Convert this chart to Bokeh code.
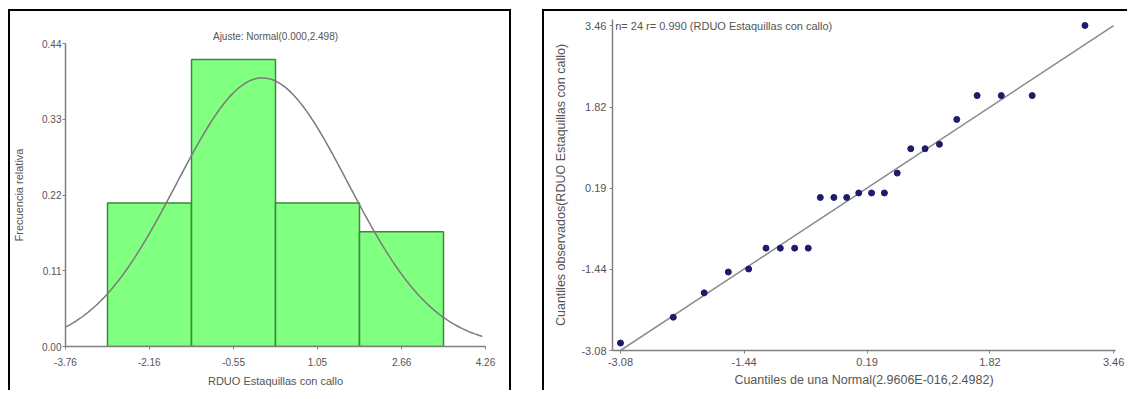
from bokeh.plotting import figure
from bokeh.layouts import row, column
from bokeh.models import Range1d, FixedTicker, Label, Spacer
from bokeh.embed import file_html
from bokeh.resources import INLINE
import numpy as np

# ---------------- data: histogram (left) ----------------
bin_edges = [-2.958, -1.354, 0.250, 1.854, 3.458]
rel_freq = [0.2083, 0.4167, 0.2083, 0.1667]
hist_x_ticks = [-3.76, -2.16, -0.55, 1.05, 2.66, 4.26]
hist_x_labels = ["-3.76", "-2.16", "-0.55", "1.05", "2.66", "4.26"]
hist_y_ticks = [0.00, 0.11, 0.22, 0.33, 0.44]
hist_y_labels = ["0.00", "0.11", "0.22", "0.33", "0.44"]
curve_mean = 0.0      # centre of the drawn fit curve
curve_sd = 1.64       # spread of the drawn fit curve
curve_peak = 0.39     # height of the drawn fit curve at its centre
curve_x_end = 4.2
hist_title = "Ajuste: Normal(0.000,2.498)"
hist_xlabel = "RDUO Estaquillas con callo"
hist_ylabel = "Frecuencia relativa"

# ---------------- data: QQ plot (right) ----------------
theo_q = [-3.08, -2.38, -1.97, -1.65, -1.38, -1.15, -0.96, -0.77, -0.59, -0.43, -0.25, -0.08,
          0.08, 0.25, 0.42, 0.59, 0.77, 0.96, 1.15, 1.38, 1.65, 1.97, 2.38, 3.08]
obs_q = [-2.93, -2.41, -1.92, -1.50, -1.44, -1.02, -1.02, -1.02, -1.02, 0.00, 0.00, 0.00,
         0.09, 0.09, 0.09, 0.49, 0.98, 0.98, 1.07, 1.57, 2.05, 2.05, 2.05, 3.46]
qq_ticks = [-3.08, -1.44, 0.19, 1.82, 3.46]
qq_labels = ["-3.08", "-1.44", "0.19", "1.82", "3.46"]
qq_ref = [-3.08, 3.46]
qq_title = "n= 24 r= 0.990 (RDUO Estaquillas con callo)"
qq_xlabel = "Cuantiles de una Normal(2.9606E-016,2.4982)"
qq_ylabel = "Cuantiles observados(RDUO Estaquillas con callo)"

FONT = "Liberation Sans"
TXT = "#555555"
AX = "#808080"


def style_axes(p, tick_size, label_size, xstand, ystand, xlab_stand, ylab_stand):
    for ax in (p.xaxis[0], p.yaxis[0]):
        ax.axis_line_color = AX
        ax.axis_line_width = 1.5
        ax.major_tick_line_color = AX
        ax.major_tick_out = 3
        ax.major_tick_in = 0
        ax.minor_tick_line_color = None
        ax.major_label_text_font = FONT
        ax.major_label_text_font_size = tick_size
        ax.major_label_text_color = TXT
        ax.axis_label_text_font = FONT
        ax.axis_label_text_font_size = label_size
        ax.axis_label_text_font_style = "normal"
        ax.axis_label_text_color = TXT
    p.xaxis[0].major_label_standoff = xstand
    p.yaxis[0].major_label_standoff = ystand
    p.xaxis[0].axis_label_standoff = xlab_stand
    p.yaxis[0].axis_label_standoff = ylab_stand
    p.xgrid.grid_line_color = None
    p.ygrid.grid_line_color = None
    p.outline_line_color = None


# ---------------- left figure ----------------
p1 = figure(width=503, height=381, output_backend="svg", toolbar_location=None,
            x_range=Range1d(hist_x_ticks[0], hist_x_ticks[-1]),
            y_range=Range1d(hist_y_ticks[0], hist_y_ticks[-1]),
            min_border_left=55, min_border_right=28, min_border_top=32, min_border_bottom=46,
            title=hist_title,
            styles={"border-top": "2px solid black", "border-left": "2px solid black",
                    "border-right": "2px solid black"})
p1.title.align = "center"
p1.title.text_font = FONT
p1.title.text_font_size = "10px"
p1.title.text_font_style = "normal"
p1.title.text_color = TXT
p1.title.standoff = 4

p1.quad(left=bin_edges[:-1], right=bin_edges[1:], bottom=0, top=rel_freq,
        fill_color="#80ff80", line_color="#3a8a3a", line_width=1.5)

xc = np.linspace(hist_x_ticks[0], curve_x_end, 300)
yc = curve_peak * np.exp(-(xc - curve_mean) ** 2 / (2 * curve_sd ** 2))
p1.line(xc, yc, line_color="#7a7a7a", line_width=1.5)

p1.xaxis.axis_label = hist_xlabel
p1.yaxis.axis_label = hist_ylabel
p1.xaxis.ticker = FixedTicker(ticks=hist_x_ticks)
p1.yaxis.ticker = FixedTicker(ticks=hist_y_ticks)
p1.xaxis.major_label_overrides = dict(zip(hist_x_ticks, hist_x_labels))
p1.yaxis.major_label_overrides = dict(zip(hist_y_ticks, hist_y_labels))
style_axes(p1, "10px", "11px", 8, 1, 6, 14)

# ---------------- right figure ----------------
p2 = figure(width=585, height=381, output_backend="svg", toolbar_location=None,
            x_range=Range1d(-3.186, 3.485),
            y_range=Range1d(qq_ticks[0], 3.581),
            min_border_left=68, min_border_right=14, min_border_top=8, min_border_bottom=42,
            styles={"border-top": "2px solid black", "border-left": "2px solid black"})

p2.line(qq_ref, qq_ref, line_color="#8a8a8a", line_width=1.5)
p2.scatter(theo_q, obs_q, size=6, fill_color="#1c1c6c", line_color="#1c1c6c")

p2.add_layout(Label(x=-3.15, y=qq_ticks[-1], text=qq_title, text_font=FONT,
                    text_font_size="11px", text_color=TXT, text_baseline="middle",
                    text_align="left"))

p2.xaxis.axis_label = qq_xlabel
p2.yaxis.axis_label = qq_ylabel
p2.xaxis.ticker = FixedTicker(ticks=qq_ticks)
p2.yaxis.ticker = FixedTicker(ticks=qq_ticks)
p2.xaxis.major_label_overrides = dict(zip(qq_ticks, qq_labels))
p2.yaxis.major_label_overrides = dict(zip(qq_ticks, qq_labels))
style_axes(p2, "11px", "12.5px", 4, 3, 4, 10)

layout = column(Spacer(height=9),
                row(Spacer(width=8), column(p1), Spacer(width=31), column(p2)))

open("out.html", "w").write(file_html(layout, INLINE, title="RDUO Estaquillas con callo"))
